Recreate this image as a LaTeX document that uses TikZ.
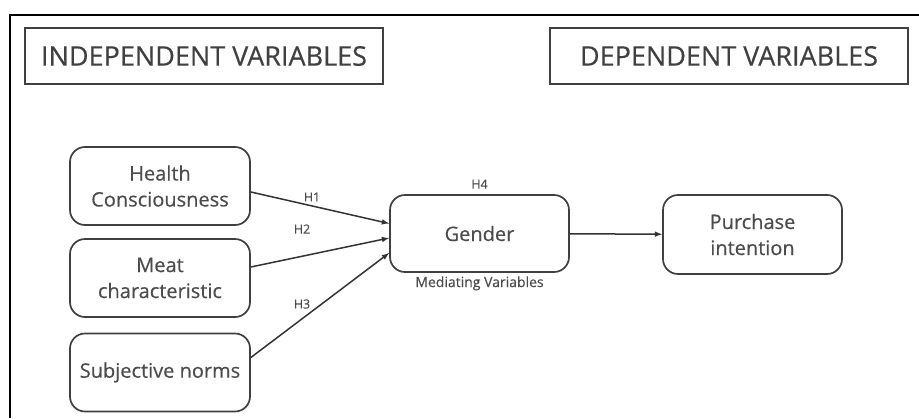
\documentclass[tikz,border=0pt]{standalone}
\usepackage{fontspec}
\setmainfont{Open Sans}[FakeBold=0.4]
\begin{document}
\begin{tikzpicture}
	[x=1pt,y=-1pt,
	 var/.style={draw=black!75,rounded corners=15pt,line width=1.7pt,minimum width=180pt,minimum height=78pt,align=center,text=black!70,font=\fontsize{20}{26}\selectfont},
	 head/.style={draw=black!75,line width=1.7pt,minimum width=358pt,minimum height=56pt,text=black!75,font=\fontsize{27}{30}\selectfont},
	 hyp/.style={text=black!70,font=\fontsize{12.5}{14}\selectfont},
	 >=latex]
	\useasboundingbox (0,0) rectangle (919,418);
	\draw[line width=2pt] (10,418) -- (10,15) -- (919,15);
	\node[head,name=ind] at (204,56) {INDEPENDENT VARIABLES};
	\node[head,name=dep] at (729,56) {DEPENDENT VARIABLES};
	\node[var,name=hc] at (160,186) {Health\\Consciousness};
	\node[var,name=mc] at (160,278) {Meat\\characteristic};
	\node[var,name=sn] at (160,372.5) {Subjective norms};
	\node[var,name=gen,minimum width=179pt,minimum height=77pt] at (479.5,233.5) {Gender};
	\node[var,name=pi,minimum width=179pt,minimum height=79pt] at (752.5,234.5) {Purchase\\intention};
	\draw[->,line width=1.5pt,black!80]([yshift=-6pt]hc.east) -- ([yshift=10pt]gen.west);
	\draw[->,line width=1.5pt,black!80]([yshift=11pt]mc.east) -- ([yshift=-4.5pt]gen.west);
	\draw[->,line width=1.5pt,black!80]([yshift=15pt]sn.east) -- ([yshift=-19.5pt]gen.west);
	\draw[->,line width=1.5pt,black!80](gen) -- (pi);
	\node[hyp] at (312,197) {H1};
	\node[hyp] at (302,229) {H2};
	\node[hyp] at (302,304) {H3};
	\node[hyp,above=2pt] at (gen.north) {H4};
	\node[hyp,font=\fontsize{14}{16}\selectfont,below=0pt] at (gen.south) {Mediating Variables};
\end{tikzpicture}
\end{document}
